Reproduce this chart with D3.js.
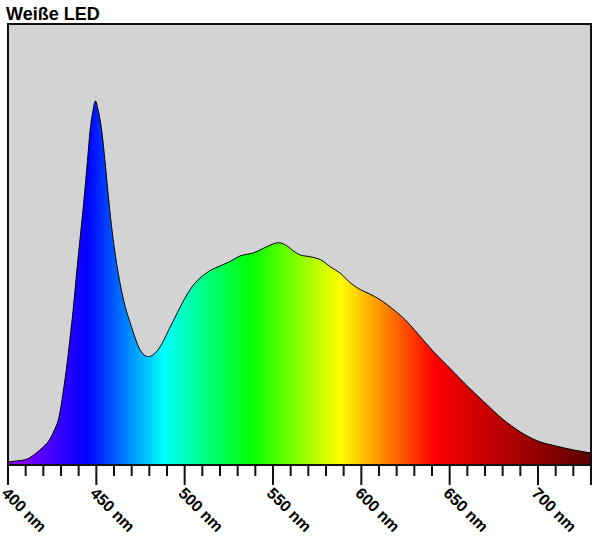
<!DOCTYPE html>
<html>
<head>
<meta charset="utf-8">
<script src="https://cdn.jsdelivr.net/npm/d3@7"></script>
<style>
  html, body { margin: 0; padding: 0; background: #ffffff; }
  svg { display: block; font-family: "Liberation Sans", Arial, sans-serif; }
</style>
</head>
<body>
<svg id="chart" width="600" height="540"></svg>
<script>
// ---- data ----
const title = "Weiße LED";
const wavelengths = [400,405,410,413,416,420,423,426,429,431,433,435,437,439,441,443,445,446.5,448,449.5,
  451,453,455,457,459,461,463,465,467,469,471,473,475,477,479.5,482,485,488,491,493.5,497,500,505,510,515,520,525,
  531.5,539,545,550,553,557,561,565.5,571,577,582.5,588,594,600,605,610,615,620,625,630,635,640,650,660,670,680,
  690,700,710,720,730];
const intensity = [0.45,0.7,1.0,1.6,2.5,3.9,5.2,7.5,10.9,15.7,21.4,28.2,35.5,44.1,52,60,69,75.9,80,82.5,
  80.5,75.9,68.4,60,52.7,46.8,42.0,38.0,34.8,32.3,29.8,27.5,25.8,24.8,24.4,24.8,26.0,28.0,30.5,32.5,35.3,37.6,40.7,42.7,44.1,45,45.9,
  47.3,48,49.1,50,50.3,49.8,48.6,47.5,47.1,46.4,44.8,43.4,41.1,39.5,38.6,37.5,36.1,34.5,32.7,30.5,28.2,25.9,21.8,17.7,13.9,10.2,
  7.3,5.2,4.1,3.2,2.5];
const majorTicks = [400,450,500,550,600,650,700];
const minorTicks = d3.range(400, 731, 10);
const tickUnit = " nm";
const gradientWavelengths = [400,445,488,537,588,641,730];
const gradientColors = ["#9a00ff","#0000ff","#00ffff","#00ff00","#ffff00","#ff0000","#5a0000"];

// ---- layout ----
const svg = d3.select("#chart");
const mLeft = 8, mRight = 591, mTop = 24, mBottom = 464;

const x = d3.scaleLinear().domain([400, 730]).range([mLeft, mRight]);
const y = d3.scaleLinear().domain([0, 100]).range([mBottom, mTop]);

// title
svg.append("text")
  .attr("x", 6).attr("y", 20)
  .attr("font-weight", "bold").attr("font-size", 18)
  .attr("fill", "#000")
  .text(title);

// background
svg.append("rect")
  .attr("x", mLeft).attr("y", mTop)
  .attr("width", mRight - mLeft).attr("height", mBottom - mTop)
  .attr("fill", "#d3d3d3");

// gradient
const defs = svg.append("defs");
const grad = defs.append("linearGradient")
  .attr("id", "spec")
  .attr("gradientUnits", "userSpaceOnUse")
  .attr("x1", x(400)).attr("x2", x(730)).attr("y1", 0).attr("y2", 0);
grad.selectAll("stop").data(gradientWavelengths).join("stop")
  .attr("offset", d => (x(d) - x(400)) / (x(730) - x(400)))
  .attr("stop-color", (d, i) => gradientColors[i]);

const data = wavelengths.map((w, i) => ({w, v: intensity[i]}));

const area = d3.area()
  .x(d => x(d.w)).y0(y(0)).y1(d => y(d.v))
  .curve(d3.curveMonotoneX);
const line = d3.line()
  .x(d => x(d.w)).y(d => y(d.v))
  .curve(d3.curveMonotoneX);

svg.append("path").datum(data)
  .attr("d", area)
  .attr("fill", "url(#spec)");
svg.append("path").datum(data)
  .attr("d", line)
  .attr("fill", "none")
  .attr("stroke", "#000")
  .attr("stroke-width", 1);

// frame
svg.append("rect")
  .attr("x", mLeft).attr("y", mTop)
  .attr("width", mRight - mLeft).attr("height", mBottom - mTop + 1)
  .attr("fill", "none")
  .attr("stroke", "#111").attr("stroke-width", 2);

// ticks
const axisG = svg.append("g");
axisG.selectAll("line.minor").data(minorTicks).join("line")
  .attr("class", "minor")
  .attr("x1", d => x(d)).attr("x2", d => x(d))
  .attr("y1", mBottom).attr("y2", d => (majorTicks.includes(d) || d === 730) ? mBottom + 21 : mBottom + 12)
  .attr("stroke", "#111").attr("stroke-width", 2);

axisG.selectAll("text").data(majorTicks).join("text")
  .attr("transform", d => `translate(${x(d) + 1},${mBottom + 22}) rotate(45)`)
  .attr("dy", "0.72em")
  .attr("text-anchor", "start")
  .attr("font-weight", "bold").attr("font-size", 16)
  .attr("fill", "#000")
  .text(d => d + tickUnit);
</script>
</body>
</html>
